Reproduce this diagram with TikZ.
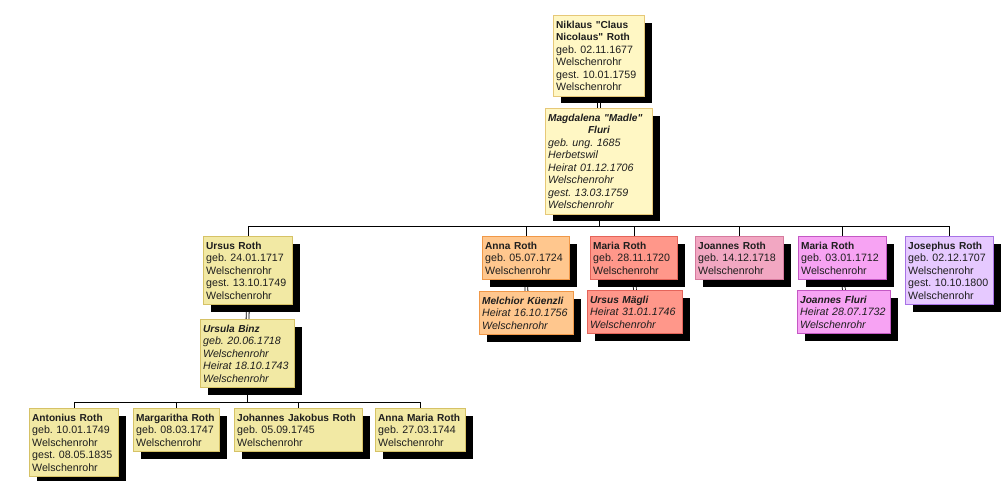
\documentclass[tikz,border=0pt]{standalone}
\usepackage{fontspec}
\setmainfont{Liberation Sans}[Ligatures=TeXOff]
\usetikzlibrary{shadows}
\pgfdeclarelayer{background}
\pgfsetlayers{background,main}
\frenchspacing
\definecolor{paleFill}{HTML}{FFF7C4}
\definecolor{paleLine}{HTML}{E6C878}
\definecolor{khakiFill}{HTML}{F2E9A4}
\definecolor{khakiLine}{HTML}{D6C266}
\definecolor{orangeFill}{HTML}{FFC78E}
\definecolor{orangeLine}{HTML}{F09848}
\definecolor{salmonFill}{HTML}{FF978A}
\definecolor{salmonLine}{HTML}{E4645A}
\definecolor{pinkFill}{HTML}{F2A7C2}
\definecolor{pinkLine}{HTML}{D67A9E}
\definecolor{magentaFill}{HTML}{F7A3F3}
\definecolor{magentaLine}{HTML}{C458C4}
\definecolor{lavenderFill}{HTML}{E6C9FF}
\definecolor{lavenderLine}{HTML}{A872E6}
\definecolor{textGrey}{HTML}{1E1E1E}
\newcommand{\treefont}{\fontsize{8}{9.4}\selectfont}
\newcommand{\nm}[1]{{\fontsize{7.6}{9.4}\selectfont\bfseries #1}}
\begin{document}
\begin{tikzpicture}[x=0.75pt,y=-0.75pt,
    person/.style={draw,rectangle,line width=0.75pt,anchor=north west,align=left,inner xsep=2pt,inner ysep=4pt,font=\treefont,text=textGrey,
      drop shadow={shadow xshift=5.25pt,shadow yshift=-5.25pt,fill=black,opacity=1}},
    inlaw/.style={person,font=\treefont\itshape},
    marriage/.style={double,double distance=1.5pt,line width=0.6pt},
    descent/.style={line width=0.75pt}]
    \useasboundingbox (0,0) rectangle (1004,480);
    %% Parents
    \node[person,fill=paleFill,draw=paleLine,text width=64.25pt] (niklaus) at (553,15)
      {\nm{Niklaus "Claus}\\\nm{Nicolaus" Roth}\\geb. 02.11.1677\\Welschenrohr\\gest. 10.01.1759\\Welschenrohr};
    \node[inlaw,fill=paleFill,draw=paleLine,text width=76.25pt] (magdalena) at (545,108)
      {\nm{Magdalena "Madle"}\\\makebox[\linewidth]{\nm{Fluri}}\\geb. ung. 1685\\Herbetswil\\Heirat 01.12.1706\\Welschenrohr\\gest. 13.03.1759\\Welschenrohr};
    %% Children
    \node[person,fill=khakiFill,draw=khakiLine,text width=62.75pt] (ursus) at (203,236)
      {\nm{Ursus Roth}\\geb. 24.01.1717\\Welschenrohr\\gest. 13.10.1749\\Welschenrohr};
    \node[inlaw,fill=khakiFill,draw=khakiLine,text width=66.5pt] (ursula) at (200,319)
      {\nm{Ursula Binz}\\geb. 20.06.1718\\Welschenrohr\\Heirat 18.10.1743\\Welschenrohr};
    \node[person,fill=orangeFill,draw=orangeLine,text width=61.25pt] (anna) at (482,236)
      {\nm{Anna Roth}\\geb. 05.07.1724\\Welschenrohr};
    \node[inlaw,fill=orangeFill,draw=orangeLine,text width=66.5pt] (melchior) at (479,291)
      {\nm{Melchior Küenzli}\\Heirat 16.10.1756\\Welschenrohr};
    \node[person,fill=salmonFill,draw=salmonLine,text width=61.25pt] (mariaA) at (590,236)
      {\nm{Maria Roth}\\geb. 28.11.1720\\Welschenrohr};
    \node[inlaw,fill=salmonFill,draw=salmonLine,text width=67.25pt] (maegli) at (587,290)
      {\nm{Ursus Mägli}\\Heirat 31.01.1746\\Welschenrohr};
    \node[person,fill=pinkFill,draw=pinkLine,text width=62pt] (joannes) at (695,236)
      {\nm{Joannes Roth}\\geb. 14.12.1718\\Welschenrohr};
    \node[person,fill=magentaFill,draw=magentaLine,text width=62pt] (mariaB) at (798,236)
      {\nm{Maria Roth}\\geb. 03.01.1712\\Welschenrohr};
    \node[inlaw,fill=magentaFill,draw=magentaLine,text width=65.75pt] (fluri) at (797,290)
      {\nm{Joannes Fluri}\\Heirat 28.07.1732\\Welschenrohr};
    \node[person,fill=lavenderFill,draw=lavenderLine,text width=62pt] (josephus) at (905,236)
      {\nm{Josephus Roth}\\geb. 02.12.1707\\Welschenrohr\\gest. 10.10.1800\\Welschenrohr};
    %% Grandchildren
    \node[person,fill=khakiFill,draw=khakiLine,text width=62.75pt] (antonius) at (29,408)
      {\nm{Antonius Roth}\\geb. 10.01.1749\\Welschenrohr\\gest. 08.05.1835\\Welschenrohr};
    \node[person,fill=khakiFill,draw=khakiLine,text width=60.5pt] (margaritha) at (133,408)
      {\nm{Margaritha Roth}\\geb. 08.03.1747\\Welschenrohr};
    \node[person,fill=khakiFill,draw=khakiLine,text width=92pt] (jakobus) at (234,408)
      {\nm{Johannes Jakobus Roth}\\geb. 05.09.1745\\Welschenrohr};
    \node[person,fill=khakiFill,draw=khakiLine,text width=63.5pt] (annamaria) at (375,408)
      {\nm{Anna Maria Roth}\\geb. 27.03.1744\\Welschenrohr};
    %% Lines
    \begin{pgfonlayer}{background}
      \draw[marriage] (niklaus.south) -- (magdalena.north);
      \draw[marriage] (ursus.south) -- (ursula.north);
      \draw[marriage] (anna.south) -- (melchior.north);
      \draw[marriage] (mariaA.south) -- (maegli.north);
      \draw[marriage] (mariaB.south) -- (fluri.north);
      \foreach \child in {ursus,anna,mariaA,joannes,mariaB,josephus}
        \draw[descent] (magdalena.south) -- ++(0,12) -| (\child.north);
      \foreach \child in {antonius,margaritha,jakobus,annamaria}
        \draw[descent] (ursula.south) -- ++(0,14) -| (\child.north);
    \end{pgfonlayer}
\end{tikzpicture}
\end{document}
